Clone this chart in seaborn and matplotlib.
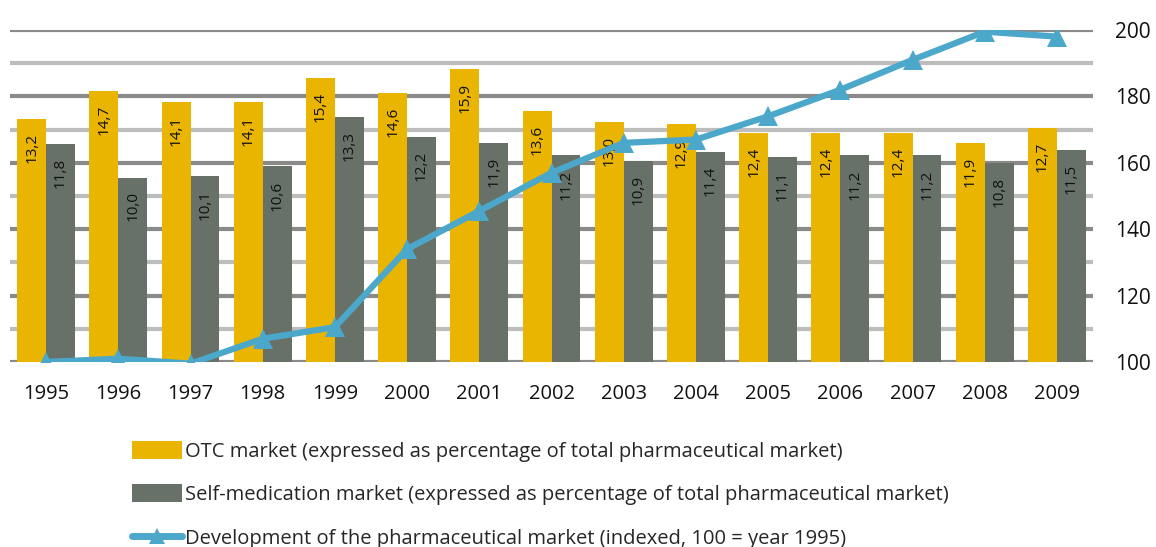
import matplotlib
matplotlib.use("Agg")
import matplotlib.pyplot as plt
import seaborn as sns
import numpy as np
import pandas as pd
from matplotlib.patches import Patch
from matplotlib.lines import Line2D

years = ["1995", "1996", "1997", "1998", "1999", "2000", "2001", "2002",
         "2003", "2004", "2005", "2006", "2007", "2008", "2009"]
otc = [13.2, 14.7, 14.1, 14.1, 15.4, 14.6, 15.9, 13.6, 13.0, 12.9, 12.4, 12.4, 12.4, 11.9, 12.7]
self_med = [11.8, 10.0, 10.1, 10.6, 13.3, 12.2, 11.9, 11.2, 10.9, 11.4, 11.1, 11.2, 11.2, 10.8, 11.5]
market_index = [100, 101, 99.5, 107, 110.5, 134, 145.5, 157, 166, 167, 174, 182, 191, 199.5, 198]

otc_label = "OTC market (expressed as percentage of total pharmaceutical market)"
self_label = "Self-medication market (expressed as percentage of total pharmaceutical market)"
line_label = "Development of the pharmaceutical market (indexed, 100 = year 1995)"

c_otc = "#E9B500"
c_self = "#677168"
c_line = "#4BA8CA"

sns.set_style("white")
plt.rcParams["font.family"] = ["Open Sans", "DejaVu Sans"]

df = pd.DataFrame({
    "year": years * 2,
    "value": otc + self_med,
    "series": [otc_label] * len(years) + [self_label] * len(years),
})

fig = plt.figure(figsize=(11.56, 5.47), dpi=100)
ax = fig.add_axes([10 / 1156, 1 - 362 / 547, (1093 - 10) / 1156, (362 - 30) / 547])

sns.barplot(data=df, x="year", y="value", hue="series", palette=[c_otc, c_self],
            width=0.8, saturation=1, legend=False, linewidth=0, ax=ax, zorder=2)

ax.set_ylim(0, 18)
ax.set_xlim(-0.5, 14.5)
ax.set_yticks(np.linspace(0, 18, 11))
ax.set_yticklabels([])
ax.tick_params(axis="y", length=0)
ax.tick_params(axis="x", length=0, labelsize=14.5, pad=16, labelcolor="#111111")
ax.yaxis.grid(True, linewidth=3)
for i, gl in enumerate(ax.get_ygridlines()):
    gl.set_color("#8a8a8a" if i % 2 == 0 else "#bdbdbd")
ax.set_axisbelow(True)
ax.set_xlabel("")
ax.set_ylabel("")
for s in ax.spines.values():
    s.set_visible(False)

# value labels inside bars, decimal comma
for cont in ax.containers:
    for bar in cont:
        h = bar.get_height()
        ax.annotate(f"{h:.1f}".replace(".", ","),
                    (bar.get_x() + bar.get_width() / 2, h),
                    xytext=(0, -10), textcoords="offset points",
                    rotation=90, ha="center", va="top", fontsize=11, color="#111111")

ax2 = ax.twinx()
sns.lineplot(x=np.arange(len(years)), y=market_index, ax=ax2, color=c_line,
             linewidth=4.5, marker="^", markersize=14, markeredgewidth=0, zorder=5)
ax2.set_ylim(100, 200)
ax2.set_yticks([100, 120, 140, 160, 180, 200])
ax2.tick_params(axis="y", length=0, labelsize=15, pad=16, labelcolor="#111111")
for s in ax2.spines.values():
    s.set_visible(False)
ax2.patch.set_visible(False)

handles = [
    Patch(facecolor=c_otc, edgecolor="none"),
    Patch(facecolor=c_self, edgecolor="none"),
    Line2D([0], [0], color=c_line, linewidth=5, marker="^", markersize=12, markeredgewidth=0),
]
fig.legend(handles, [otc_label, self_label, line_label],
           loc="upper left", bbox_to_anchor=(132 / 1156, 1 - 441 / 547),
           frameon=False, fontsize=14.5, handlelength=2.5, handleheight=1.0,
           handletextpad=0.15, labelspacing=1.12, borderaxespad=0, borderpad=0)

fig.savefig("out.png", dpi=100)
